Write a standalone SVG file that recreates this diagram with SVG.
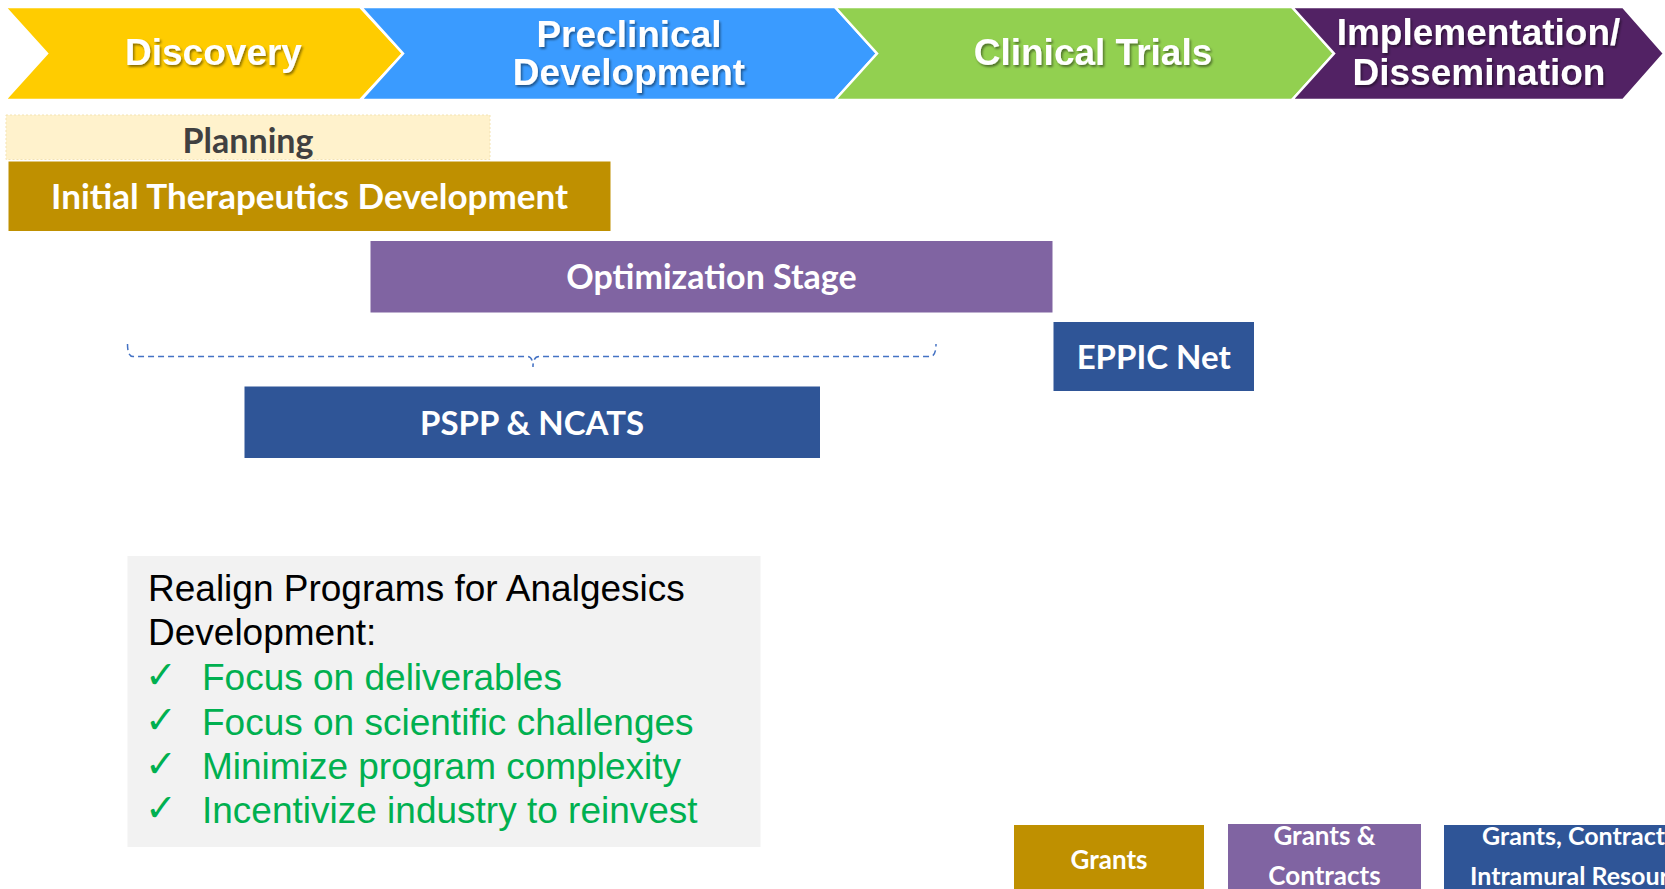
<svg xmlns="http://www.w3.org/2000/svg" width="1665" height="889" viewBox="0 0 1665 889">
  <defs>
    <filter id="txtShadow" x="-10%" y="-30%" width="120%" height="160%">
      <feDropShadow dx="1.5" dy="2" stdDeviation="1" flood-color="#000" flood-opacity="0.45"/>
    </filter>
    <style>
      .chev { stroke: #ffffff; stroke-width: 2.5; stroke-linejoin: miter; }
      .chevTxt { font-family: "Liberation Sans", Arial, sans-serif; font-weight: bold; font-size: 37px; fill: #ffffff; text-anchor: middle; filter: url(#txtShadow); }
      .barTxt { font-family: Lato, "Open Sans", sans-serif; font-weight: bold; font-size: 34px; fill: #ffffff; text-anchor: middle; }
      .fundTxt { font-family: Lato, "Open Sans", sans-serif; font-weight: bold; font-size: 26px; fill: #ffffff; text-anchor: middle; }
      .note { font-family: "Liberation Sans", Arial, sans-serif; font-size: 37px; fill: #000000; }
      .goal { font-family: "Liberation Sans", Arial, sans-serif; font-size: 37px; fill: #00B050; }
      .tick { font-family: "DejaVu Sans", sans-serif; font-size: 38px; fill: #00B050; }
    </style>
  </defs>

  <rect width="1665" height="889" fill="#ffffff"/>

  <!-- phase chevrons -->
  <g id="discovery">
    <path class="chev" fill="#FFCC00" d="M5,7 L360,7 L403,53.5 L360,100 L5,100 L47,53.5 Z"/>
    <text class="chevTxt" x="213.5" y="65">Discovery</text>
  </g>
  <g id="preclinical">
    <path class="chev" fill="#3A9BFF" d="M361,7 L835,7 L877,53.5 L835,100 L361,100 L403,53.5 Z"/>
    <text class="chevTxt" x="629" y="46.5">Preclinical</text>
    <text class="chevTxt" x="629" y="85">Development</text>
  </g>
  <g id="clinical-trials">
    <path class="chev" fill="#92D050" d="M835,7 L1292,7 L1334,53.5 L1292,100 L835,100 L877,53.5 Z"/>
    <text class="chevTxt" x="1093" y="65">Clinical Trials</text>
  </g>
  <g id="implementation">
    <path class="chev" fill="#522264" d="M1292,7 L1623,7 L1664,53.5 L1623,100 L1292,100 L1334,53.5 Z"/>
    <text class="chevTxt" x="1478.5" y="45">Implementation/</text>
    <text class="chevTxt" x="1479" y="85">Dissemination</text>
  </g>

  <!-- program bars -->
  <g id="planning">
    <rect x="6" y="115" width="484" height="44.5" fill="#FFF2CC" stroke="#F3E3B3" stroke-width="1" stroke-dasharray="2 2"/>
    <text class="barTxt" x="248" y="153" style="fill:#404040">Planning</text>
  </g>
  <g id="initial-therapeutics">
    <rect x="8.5" y="161.5" width="602" height="69.5" fill="#BF9000"/>
    <text class="barTxt" x="309.5" y="208.5" style="font-size:35px">Initial Therapeutics Development</text>
  </g>
  <g id="optimization">
    <rect x="370.5" y="241" width="682" height="71.5" fill="#8064A2"/>
    <text class="barTxt" x="711.5" y="289">Optimization Stage</text>
  </g>
  <g id="eppic-net">
    <rect x="1053.5" y="322" width="200.5" height="69" fill="#2F5597"/>
    <text class="barTxt" x="1153.7" y="369" style="font-size:33px">EPPIC Net</text>
  </g>
  <g id="pspp-ncats">
    <rect x="244.5" y="386.5" width="575.5" height="71.5" fill="#2F5597"/>
    <text class="barTxt" x="532" y="434.5" style="font-size:33px">PSPP &amp; NCATS</text>
  </g>

  <!-- dashed brace spanning the PSPP &amp; NCATS stages -->
  <g id="connectors">
    <path d="M127.5,344 Q127.5,356.5 133,356.5 L527,356.5 Q533,356.5 533,367 Q533,356.5 539,356.5 L930,356.5 Q936,356.5 936,344"
          fill="none" stroke="#4472C4" stroke-width="1.5" stroke-dasharray="6 4"/>
  </g>

  <!-- realignment goals -->
  <g id="goals">
    <rect x="127.5" y="556" width="633" height="291" fill="#F2F2F2"/>
    <text class="note" x="148" y="601">Realign Programs for Analgesics</text>
    <text class="note" x="148" y="645">Development:</text>
    <text class="tick" x="145" y="688">✓</text>
    <text class="goal" x="202" y="690">Focus on deliverables</text>
    <text class="tick" x="145" y="732.5">✓</text>
    <text class="goal" x="202" y="734.5">Focus on scientific challenges</text>
    <text class="tick" x="145" y="777">✓</text>
    <text class="goal" x="202" y="779">Minimize program complexity</text>
    <text class="tick" x="145" y="821">✓</text>
    <text class="goal" x="202" y="823">Incentivize industry to reinvest</text>
  </g>

  <!-- funding legend -->
  <g id="legend-grants">
    <rect x="1014" y="825" width="190" height="70" fill="#BF9000"/>
    <text class="fundTxt" x="1109" y="869">Grants</text>
  </g>
  <g id="legend-grants-contracts">
    <rect x="1228" y="824" width="193" height="70" fill="#8064A2"/>
    <text class="fundTxt" x="1324.5" y="844.5">Grants &amp;</text>
    <text class="fundTxt" x="1324.5" y="885">Contracts</text>
  </g>
  <g id="legend-grants-contracts-intramural">
    <rect x="1444" y="825" width="310" height="70" fill="#2F5597"/>
    <text class="fundTxt" x="1482" y="844.5" style="text-anchor:start;font-size:25px">Grants, Contracts &amp;</text>
    <text class="fundTxt" x="1470" y="885" style="text-anchor:start;font-size:25px">Intramural Resources</text>
  </g>
</svg>
